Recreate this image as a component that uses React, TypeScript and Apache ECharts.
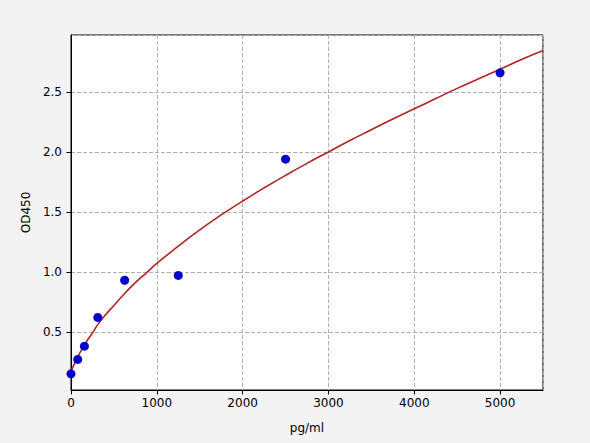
import React, { useEffect, useRef } from "react";
import * as echarts from "echarts";

const concentrations = [0, 78.125, 156.25, 312.5, 625, 1250, 2500, 5000];
const odValues = [0.15, 0.27, 0.38, 0.62, 0.93, 0.97, 1.94, 2.66];

const curveX = [0, 50, 100, 150, 200, 250, 312, 400, 500, 625, 750, 875, 1000, 1250, 1500, 1750, 2000, 2250, 2500, 2750, 3000, 3250, 3500, 3750, 4000, 4250, 4500, 4750, 5000, 5250, 5500];
const curveY = [0.17, 0.25, 0.32, 0.38, 0.44, 0.49, 0.56, 0.64, 0.72, 0.82, 0.91, 0.99, 1.07, 1.215, 1.35, 1.475, 1.59, 1.7, 1.805, 1.905, 2.0, 2.095, 2.185, 2.275, 2.36, 2.445, 2.53, 2.61, 2.69, 2.77, 2.845];

const xTitle = "pg/ml";
const yTitle = "OD450";

export default function App() {
  const ref = useRef<HTMLDivElement>(null);
  useEffect(() => {
    if (!ref.current) return;
    const chart = echarts.init(ref.current, null, { renderer: "svg" });
    const font = "DejaVu Sans";
    chart.setOption({
      animation: false,
      backgroundColor: "#f3f3f3",
      textStyle: { fontFamily: font },
      grid: {
        left: 71,
        right: 47,
        top: 35,
        bottom: 53,
        show: true,
        backgroundColor: "#ffffff",
        borderColor: "#000000",
        borderWidth: 1,
      },
      xAxis: {
        type: "value",
        min: 0,
        max: 5500,
        interval: 1000,
        name: xTitle,
        nameLocation: "middle",
        nameGap: 32,
        nameTextStyle: { color: "#000", fontSize: 12, fontFamily: font },
        axisLine: { show: true, onZero: false, lineStyle: { color: "#000" } },
        axisTick: { show: true, length: 4.5, inside: false, lineStyle: { color: "#000" } },
        axisLabel: {
          color: "#000",
          fontSize: 12,
          margin: 7,
          showMaxLabel: false,
          fontFamily: font,
          formatter: (v: number) => String(v),
        },
        splitLine: { show: true, lineStyle: { color: "#b0b0b0", type: [4, 2], width: 1 } },
      },
      yAxis: {
        type: "value",
        min: 0.015,
        max: 2.975,
        minInterval: 0.5,
        maxInterval: 0.5,
        name: yTitle,
        nameLocation: "middle",
        nameGap: 32,
        nameTextStyle: { color: "#000", fontSize: 12, fontFamily: font },
        axisLine: { show: true, onZero: false, lineStyle: { color: "#000" } },
        axisTick: { show: true, length: 4.5, inside: false, lineStyle: { color: "#000" } },
        axisLabel: {
          color: "#000",
          fontSize: 12,
          margin: 9,
          showMinLabel: false,
          showMaxLabel: false,
          fontFamily: font,
          formatter: (v: number) => v.toFixed(1),
        },
        splitLine: { show: true, lineStyle: { color: "#b0b0b0", type: [4, 2], width: 1 } },
      },
      series: [
        {
          type: "line",
          data: curveX.map((x, i) => [x, curveY[i]]),
          smooth: 0.5,
          showSymbol: false,
          lineStyle: { color: "#b22222", width: 1.6 },
          z: 2,
        },
        {
          type: "scatter",
          data: concentrations.map((x, i) => [x, odValues[i]]),
          symbolSize: 9,
          itemStyle: { color: "#0000cc", opacity: 1 },
          z: 3,
        },
      ],
    });
    return () => chart.dispose();
  }, []);
  return <div ref={ref} style={{ width: 590, height: 443, position: "absolute", left: 0, top: 0 }} />;
}
